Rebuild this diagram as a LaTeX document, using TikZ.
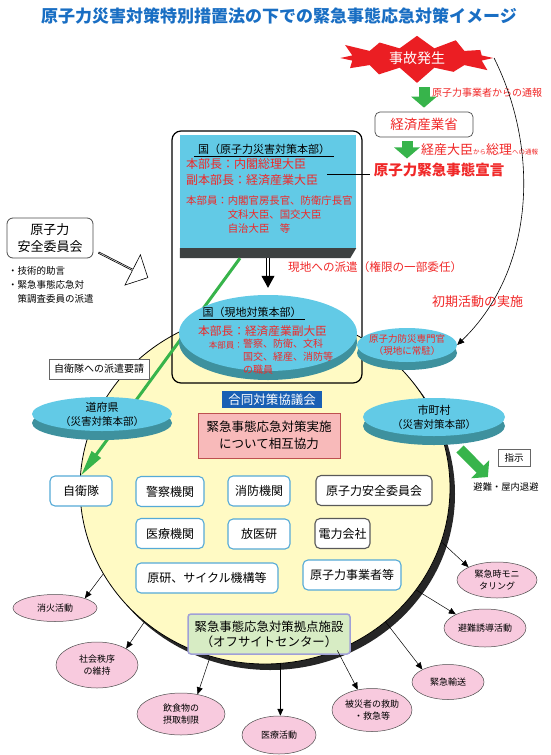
\documentclass[tikz,border=0pt]{standalone}
\usepackage{fontspec}
\setmainfont{Noto Sans CJK JP}
\usepackage{xcolor}
\usetikzlibrary{positioning, arrows.meta, shapes.geometric, shapes.symbols, shapes.arrows, shadows, calc}

\definecolor{titleblue}{RGB}{25,110,195}
\definecolor{jred}{RGB}{240,40,40}
\definecolor{starred}{RGB}{235,30,35}
\definecolor{cyantop}{RGB}{98,202,230}
\definecolor{cyanside}{RGB}{62,145,158}
\definecolor{slabdark}{RGB}{62,66,66}
\definecolor{paleyellow}{RGB}{255,250,196}
\definecolor{actpink}{RGB}{248,202,222}
\definecolor{coopink}{RGB}{248,186,186}
\definecolor{coopedge}{RGB}{190,80,80}
\definecolor{jgreen}{RGB}{55,180,75}
\definecolor{boxblue}{RGB}{85,170,215}
\definecolor{councilblue}{RGB}{25,95,180}
\definecolor{offgreen}{RGB}{215,236,196}
\definecolor{offedge}{RGB}{160,160,215}

\begin{document}
\begin{tikzpicture}[x=1pt, y=-1pt,
    garrow/.style={draw=jgreen, line width=11pt, -{Triangle[length=11pt, width=25pt]}},
    jdline/.style={draw=jgreen, line width=3pt, -{Triangle[length=26pt, width=11pt]}},
    dblarrow/.style={double, double distance=2.4pt, line width=0.8pt, -{Triangle[length=12pt, width=13pt]}},
    actline/.style={line width=0.5pt, -{Triangle[length=7pt, width=6pt]}},
    agency/.style={draw=boxblue, line width=1.1pt, rounded corners=5pt, fill=white, minimum height=30pt, inner sep=0pt, font=\fontsize{12}{14}\selectfont},
    agencydark/.style={agency, draw=black!65},
    disc/.style={ellipse, fill=cyantop, align=center, inner sep=-3pt, general shadow={fill=cyanside, shadow yshift=-#1}},
    disc/.default=8pt,
    act/.style={ellipse, fill=actpink, draw=black!70, line width=0.5pt, align=center, inner sep=-2pt, font=\fontsize{9}{11.5}\selectfont}]

\useasboundingbox (0,0) rectangle (550,755);

% big circle
\node[ellipse, minimum width=370pt, minimum height=352pt, fill=paleyellow, draw=black, line width=0.8pt,
      general shadow={fill=black!85, shadow xshift=5pt, shadow yshift=-6pt}] (circ) at (265,488) {};

% title
\node[text=titleblue, font=\bfseries\fontsize{17}{20}\selectfont] (title) at (279,16) {原子力災害対策特別措置法の下での緊急事態応急対策イメージ};

% accident and reports
\node[starburst, starburst points=12, starburst point height=17pt, fill=starred, text=white,
      minimum width=168pt, minimum height=54pt, inner sep=0pt, font=\fontsize{14}{16}\selectfont] (accident) at (417,58) {事故発生};
\node[draw=black!70, line width=0.7pt, rounded corners=5pt, minimum width=98pt, minimum height=25pt, inner sep=0pt,
      text=jred, font=\fontsize{13.5}{16}\selectfont] (meti) at (424,124.5) {経済産業省};
\draw[garrow, shorten <=4pt, shorten >=4pt] (accident.south -| meti.north) -- (meti.north);
\node[anchor=west, text=jred, inner sep=0pt, font=\fontsize{10}{12}\selectfont] (notice) at (432,93) {原子力事業者からの通報};
\node[text=jred, font=\bfseries\fontsize{14.5}{17}\selectfont] (sengen) at (439,170) {原子力緊急事態宣言};
\draw[garrow, shorten <=4pt, shorten >=1pt] ([xshift=-17pt]meti.south) -- ([xshift=-17pt]meti.south |- sengen.north);
\node[anchor=west, text=jred, inner sep=0pt] (report) at (421,150) {{\fontsize{13}{15}\selectfont 経産大臣}{\fontsize{6.5}{8}\selectfont から}{\fontsize{13}{15}\selectfont 総理}{\fontsize{6.5}{8}\selectfont への通報}};

% agencies
\node[agency, minimum width=62pt] (jieitai) at (81,491) {自衛隊};
\node[agency, minimum width=68pt] (keisatsu) at (170,491.5) {警察機関};
\node[agency, minimum width=62pt] (shobo) at (259,491) {消防機関};
\node[agencydark, minimum width=116pt] (anzen) at (374,490.5) {原子力安全委員会};
\node[agency, minimum width=68pt] (iryo) at (170,533.5) {医療機関};
\node[agency, minimum width=62pt] (hoiken) at (259,534) {放医研};
\node[agencydark, minimum width=55pt] (denryoku) at (342.5,533.5) {電力会社};
\node[agency, minimum width=142pt] (genken) at (207,578) {原研、サイクル機構等};
\node[agency, minimum width=98pt] (jigyosha) at (352,575) {原子力事業者等};

% national headquarters
\node[draw, line width=1.2pt, rounded corners=9pt, minimum width=190pt, minimum height=252pt] (frame) at (267,257) {};
\node[fill=cyantop, minimum width=176pt, minimum height=113pt] (hq) at (268,191.5) {};
\fill[slabdark] (hq.south west) -- (hq.south east) -- ([shift={(-6,10)}]hq.south east) -- ([yshift=-10pt]hq.south west) -- cycle;
\node[font=\fontsize{11}{13}\selectfont] (hqname) at (264,149) {国（原子力災害対策本部）};
\draw[line width=0.8pt] ([yshift=1pt]hqname.south west) -- ([yshift=1pt]hqname.south east);
\node[anchor=west, text=jred, inner sep=0pt, font=\fontsize{12}{14}\selectfont] (hqchief) at (186,164) {本部長：内閣総理大臣};
\node[anchor=west, text=jred, inner sep=0pt, font=\fontsize{12}{14}\selectfont] (hqvice) at (186,180) {副本部長：経済産業大臣};
\node[anchor=north west, align=left, text=jred, inner sep=0pt, font=\fontsize{10.4}{14}\selectfont] (hqmem) at (186,196)
    {本部員：内閣官房長官、防衛庁長官\\\hspace*{4em}文科大臣、国交大臣\\\hspace*{4em}自治大臣　等};
\coordinate (hqlink) at (327,174);
\draw[line width=1pt] (hqlink) -- (hqlink -| sengen.west);

% dispatch to self defence forces
\draw[jdline] ([shift={(-28,10)}]hq.south) -- (jieitai.north);
\node[draw=black!60, fill=white, minimum width=100pt, minimum height=20pt, inner sep=0pt, font=\fontsize{10}{12}\selectfont] (yosei) at (99,369) {自衛隊への派遣要請};

% local headquarters
\node[disc=9pt, minimum width=178pt, minimum height=76pt] (genchi) at (268,333) {};
\node[font=\fontsize{11}{13}\selectfont] (gname) at (252,312) {国（現地対策本部）};
\draw[line width=0.8pt] ([yshift=1pt]gname.south west) -- ([yshift=1pt]gname.south east);
\node[anchor=west, text=jred, inner sep=0pt, font=\fontsize{11.7}{14}\selectfont] (gchief) at (198,331) {本部長：経済産業副大臣};
\node[anchor=east, text=jred, inner sep=0pt, font=\fontsize{8.5}{10}\selectfont] (gmemlabel) at (243,345) {本部員：};
\node[anchor=north west, align=left, text=jred, inner sep=0pt, font=\fontsize{10}{13}\selectfont] (gmem) at (243,339)
    {警察、防衛、文科\\国交、経産、消防等\\の職員};
\draw[dblarrow, shorten >=7pt] ([yshift=-10pt]hq.south) -- (genchi.north);

\node[disc, minimum width=100pt, minimum height=34pt, text=jred, font=\fontsize{9.5}{12}\selectfont] (bousai) at (407,345) {原子力防災専門官\\（現地に常駐）};
\node[disc=9pt, minimum width=140pt, minimum height=34pt, font=\fontsize{10.5}{14}\selectfont] (dofuken) at (102,414) {{\fontsize{11}{14}\selectfont 道府県}\\（災害対策本部）};
\node[disc=9pt, minimum width=142pt, minimum height=38pt, font=\fontsize{10.5}{14}\selectfont] (shichoson) at (434,417) {{\fontsize{11}{14}\selectfont 市町村}\\（災害対策本部）};

% red remarks and first action
\node[anchor=west, text=jred, inner sep=0pt, font=\fontsize{11.6}{14}\selectfont] (haken) at (288,267) {現地への派遣（権限の一部委任）};
\node[anchor=west, text=jred, inner sep=0pt, font=\fontsize{13}{15}\selectfont] (shoki) at (432,302) {初期活動の実施};
\draw[line width=0.6pt, -{Triangle[length=7pt, width=6pt]}] (accident.east) .. controls (540,150) and (535,270) .. (bousai.east);

% council
\node[fill=councilblue, text=white, minimum width=100pt, minimum height=17pt, inner sep=0pt, font=\fontsize{12.5}{14}\selectfont] (kyogi) at (272,399.5) {合同対策協議会};
\node[fill=coopink, draw=coopedge, line width=0.6pt, align=center, minimum width=142pt, minimum height=45pt, inner sep=0pt,
      font=\fontsize{12.5}{17}\selectfont] (sogo) at (269,435.5) {緊急事態応急対策実施\\について相互協力};

% instruction to residents
\node[draw=black!60, fill=white, minimum width=32pt, minimum height=17pt, inner sep=0pt, font=\fontsize{9.5}{11}\selectfont] (shiji) at (514,457.5) {指示};
\node[font=\fontsize{9.3}{11}\selectfont] (hinan) at (506,487) {避難・屋内退避};
\draw[garrow, line width=10pt, shorten >=3pt] ([shift={(26,32)}]shichoson.center) -- ([xshift=-16pt]hinan.north);

% nuclear safety commission
\node[draw=black!70, line width=0.8pt, rounded corners=6pt, fill=white, align=center, minimum width=86pt, minimum height=40pt, inner sep=0pt,
      font=\fontsize{13}{17}\selectfont] (nsc) at (50,238) {原子力\\安全委員会};
\node[anchor=north west, align=left, inner sep=0pt, font=\fontsize{9.5}{14}\selectfont] (advice) at (8,266)
    {・技術的助言\\・緊急事態応急対\\\hspace*{1em}策調査委員の派遣};
\node[single arrow, draw, fill=white, line width=0.6pt, minimum height=55pt, minimum width=34pt, single arrow head extend=7pt,
      inner sep=0pt, rotate=-27] (advarrow) at (123,265) {};

% off-site centre
\node[fill=offgreen, draw=offedge, line width=1.5pt, rounded corners=3pt, align=center, minimum width=162pt, minimum height=40pt, inner sep=0pt,
      font=\fontsize{12.4}{15}\selectfont] (offsite) at (269,634) {緊急事態応急対策拠点施設\\（オフサイトセンター）};

% activities
\node[act, minimum width=84pt, minimum height=27pt] (shoka) at (55,608) {消火活動};
\node[act, minimum width=82pt, minimum height=46pt] (chitsujo) at (97,665) {社会秩序\\の維持};
\node[act, minimum width=88pt, minimum height=42pt] (inshoku) at (181,714) {飲食物の\\摂取制限};
\node[act, minimum width=74pt, minimum height=38pt] (iryokatsu) at (279,735) {医療活動};
\node[act, minimum width=80pt, minimum height=43pt] (kyujo) at (372,710) {被災者の救助\\・救急等};
\node[act, minimum width=72pt, minimum height=35pt] (yuso) at (448,682) {緊急輸送};
\node[act, minimum width=82pt, minimum height=38pt] (yudo) at (485,628) {避難誘導活動};
\node[act, minimum width=80pt, minimum height=36pt] (monita) at (497,580) {緊急時モニ\\タリング};

\draw[actline] (circ.208.8) -- (shoka.north east);
\draw[actline] (circ.228.2) -- (chitsujo.north east);
\draw[actline] (circ.252.6) -- (inshoku.50);
\draw[actline] (circ.275) -- (circ.275 |- iryokatsu.north);
\draw[actline] (circ.294.6) -- (kyujo.125);
\draw[actline] (circ.312.4) -- (yuso.north west);
\draw[actline] (circ.326.6) -- (yudo.north west);
\draw[actline] (circ.343.6) -- (monita.north west);

\end{tikzpicture}
\end{document}
